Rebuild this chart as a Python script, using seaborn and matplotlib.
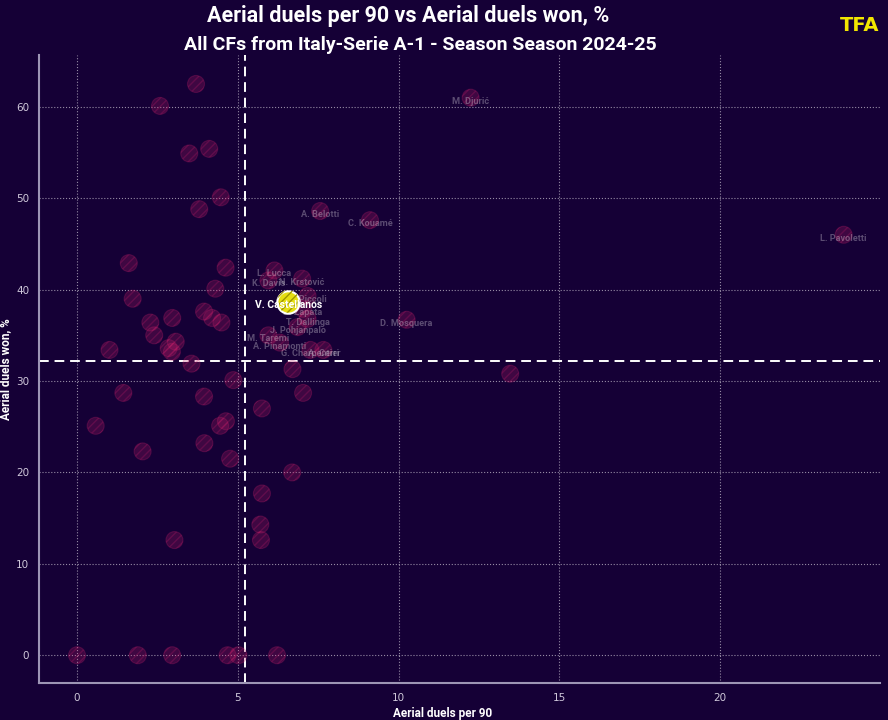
import numpy as np
import pandas as pd
import matplotlib
matplotlib.use("Agg")
import matplotlib.pyplot as plt
import seaborn as sns

# ---- data ----
other_x = [3.70, 2.58, 3.49, 4.11, 4.47, 3.80, 1.61, 4.62, 4.30, 1.73, 3.95, 4.20, 4.49,
           2.96, 2.28, 2.40, 3.07, 2.85, 2.95, 1.01, 3.56, 4.86, 6.70, 13.47, 1.44, 3.95,
           7.03, 5.75, 0.58, 4.63, 4.45, 3.96, 2.04, 4.76, 6.69, 5.75, 5.70, 5.72, 3.03,
           0.00, 1.89, 2.96, 4.68, 5.02, 6.22]
other_y = [62.5, 60.1, 54.9, 55.4, 50.1, 48.8, 42.9, 42.4, 40.1, 39.0, 37.6, 36.9, 36.4,
           36.9, 36.4, 35.0, 34.3, 33.6, 33.2, 33.4, 31.9, 30.1, 31.3, 30.8, 28.7, 28.3,
           28.7, 27.0, 25.1, 25.6, 25.1, 23.2, 22.3, 21.5, 20.0, 17.7, 14.3, 12.6, 12.6,
           0.0, 0.0, 0.0, 0.0, 0.0, 0.0]

label_names = ["M. Djurić", "A. Belotti", "C. Kouamé", "L. Pavoletti", "L. Lucca",
               "N. Krstović", "K. Davis", "R. Piccoli", "D. Zapata", "T. Dallinga",
               "J. Pohjanpalo", "M. Taremi", "A. Pinamonti", "G. Charpentier", "A. Cerri",
               "D. Mosquera"]
label_x = [12.24, 7.56, 9.11, 23.84, 6.14, 7.00, 5.95, 7.17, 7.03, 7.17, 6.86, 5.95, 6.31,
           7.26, 7.66, 10.25]
label_y = [61.0, 48.6, 47.6, 46.0, 42.1, 41.2, 41.0, 39.3, 37.9, 36.8, 35.9, 35.0, 34.2,
           33.4, 33.4, 36.7]

hl_name = "V. Castellanos"
hl_x = [6.57]
hl_y = [38.7]

title = "Aerial duels per 90 vs Aerial duels won, %"
subtitle = "All CFs from Italy-Serie A-1 - Season Season 2024-25"
x_label = "Aerial duels per 90"
y_label = "Aerial duels won, %"
x_ticks = [0, 5, 10, 15, 20]
y_ticks = [0, 10, 20, 30, 40, 50, 60]

# ---- style ----
BG = "#150036"
PINK = "#c8206a"
plt.rcParams["hatch.linewidth"] = 1.0

fig = plt.figure(figsize=(8.88, 7.2), dpi=100, facecolor=BG)
ax = fig.add_axes([0.044, 0.051, 0.947, 0.873], facecolor=BG)

df_other = pd.DataFrame({"x": other_x + label_x, "y": other_y + label_y})
df_hl = pd.DataFrame({"x": hl_x, "y": hl_y})
all_x = np.array(other_x + label_x + hl_x)
all_y = np.array(other_y + label_y + hl_y)

sns.scatterplot(data=df_other, x="x", y="y", ax=ax, s=150, color=PINK, alpha=0.24,
                hatch="////", edgecolor=PINK, linewidth=0.8, zorder=3, legend=False)

for n, x, y in zip(label_names, label_x, label_y):
    ax.annotate(n, (x, y), xytext=(0, -2.5), textcoords="offset points",
                ha="center", va="center", color="white", alpha=0.3,
                fontsize=6.6, fontweight="bold", family="Roboto", zorder=4)

sns.scatterplot(data=df_hl, x="x", y="y", ax=ax, s=260, color="#e6df12",
                edgecolor="white", linewidth=1.5, zorder=5, legend=False)
sns.scatterplot(data=df_hl, x="x", y="y", ax=ax, s=260, facecolor="none",
                edgecolor="#9e9600", hatch="////", linewidth=0, zorder=6, legend=False)
ax.annotate(hl_name, (hl_x[0], hl_y[0]), xytext=(0, -2.8), textcoords="offset points",
            ha="center", va="center", color="white", fontsize=7.5, fontweight="bold",
            family="Roboto", zorder=7)

ax.axvline(all_x.mean(), color="white", ls=(0, (5, 3)), lw=1.4, zorder=2)
ax.axhline(all_y.mean(), color="white", ls=(0, (5, 3)), lw=1.4, zorder=2)

ax.set_xlim(-1.18, 24.97)
ax.set_ylim(-3.07, 65.7)
ax.set_xticks(x_ticks)
ax.set_yticks(y_ticks)
ax.grid(True, ls=":", color="white", alpha=0.55, lw=0.8)
ax.set_axisbelow(True)
ax.tick_params(length=0, colors="#cfc8da", labelsize=7.5, pad=7)
for s in ["top", "right"]:
    ax.spines[s].set_visible(False)
for s in ["left", "bottom"]:
    ax.spines[s].set_color("#9d95b5")
    ax.spines[s].set_linewidth(1.5)

ax.set_xlabel(x_label, color="white", fontsize=8.5, fontweight="bold", family="Roboto")
ax.set_ylabel(y_label, color="white", fontsize=8.5, fontweight="bold", family="Roboto")
ax.xaxis.set_label_coords(0.48, -0.038)
ax.yaxis.set_label_coords(-0.032, 0.5)

fig.text(0.46, 0.978, title, ha="center", va="center", color="white",
         fontsize=15.5, fontweight="bold", family="Roboto")
fig.text(0.473, 0.938, subtitle, ha="center", va="center", color="white",
         fontsize=14, fontweight="bold", family="Roboto")
fig.text(0.968, 0.965, "TFA", ha="center", va="center", color="#f2e600",
         fontsize=14, fontweight="bold", family="DejaVu Sans")

fig.savefig("out.png", dpi=100, facecolor=BG)
